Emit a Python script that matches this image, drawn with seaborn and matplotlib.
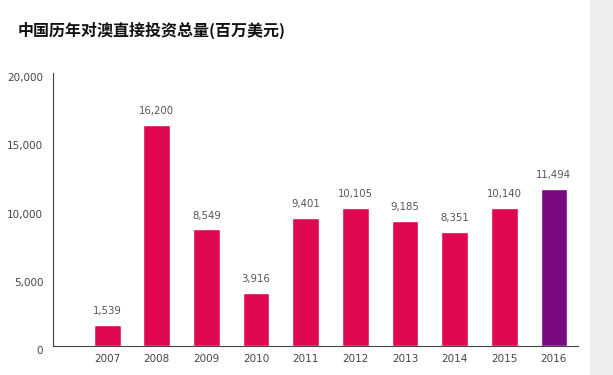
import matplotlib
matplotlib.use("Agg")
import matplotlib.pyplot as plt
import matplotlib.transforms as mtransforms
import seaborn as sns
import pandas as pd
from matplotlib.patches import Rectangle

years = ["2007", "2008", "2009", "2010", "2011", "2012", "2013", "2014", "2015", "2016"]
values = [1539, 16200, 8549, 3916, 9401, 10105, 9185, 8351, 10140, 11494]
labels = ["1,539", "16,200", "8,549", "3,916", "9,401", "10,105", "9,185", "8,351", "10,140", "11,494"]
yticks = [0, 5000, 10000, 15000, 20000]
ytick_labels = ["0", "5,000", "10,000", "15,000", "20,000"]

pink = "#E0094F"
purple = "#7A0A80"
colors = [pink] * 9 + [purple]
num_font = ["DejaVu Sans"]

sns.set_theme(style="white")
plt.rcParams["font.family"] = ["Noto Sans CJK SC", "DejaVu Sans"]

df = pd.DataFrame({"year": years, "value": values})

fig = plt.figure(figsize=(6.13, 3.75), dpi=100)
ax = fig.add_axes([0.0865, 0.077, 0.856, 0.728])

sns.barplot(data=df, x="year", y="value", hue="year", palette=colors,
            legend=False, width=0.54, saturation=1, ax=ax)

for i, (v, lab) in enumerate(zip(values, labels)):
    ax.text(i, v + 650, lab, ha="center", va="bottom", fontsize=7.3,
            color="#555555", family=num_font)

ax.set_xlim(-1.09, 9.48)
ax.set_ylim(0, 20000)
ax.set_yticks(yticks)
ax.set_yticklabels(ytick_labels)
ax.set_xlabel("")
ax.set_ylabel("")
ax.tick_params(axis="both", length=0, labelsize=7.5, colors="#444444")
ax.tick_params(axis="y", pad=7)
ax.tick_params(axis="x", pad=6)
shift = mtransforms.ScaledTranslation(0, -4 / 100, fig.dpi_scale_trans)
for t in ax.get_yticklabels():
    t.set_transform(t.get_transform() + shift)
for t in ax.get_xticklabels() + ax.get_yticklabels():
    t.set_family(num_font)

for s in ["top", "right"]:
    ax.spines[s].set_visible(False)
ax.spines["left"].set_color("#444444")
ax.spines["bottom"].set_color("#444444")
ax.spines["left"].set_linewidth(0.8)
ax.spines["bottom"].set_linewidth(0.8)

fig.text(0.028, 0.92, "中国历年对澳直接投资总量(百万美元)", fontsize=11.5,
         fontweight="bold", color="#111111", va="center")

fig.patches.append(Rectangle((0.962, 0), 0.038, 1, transform=fig.transFigure,
                             color="#EDEDED", zorder=-1))

fig.savefig("out.png", dpi=100)
